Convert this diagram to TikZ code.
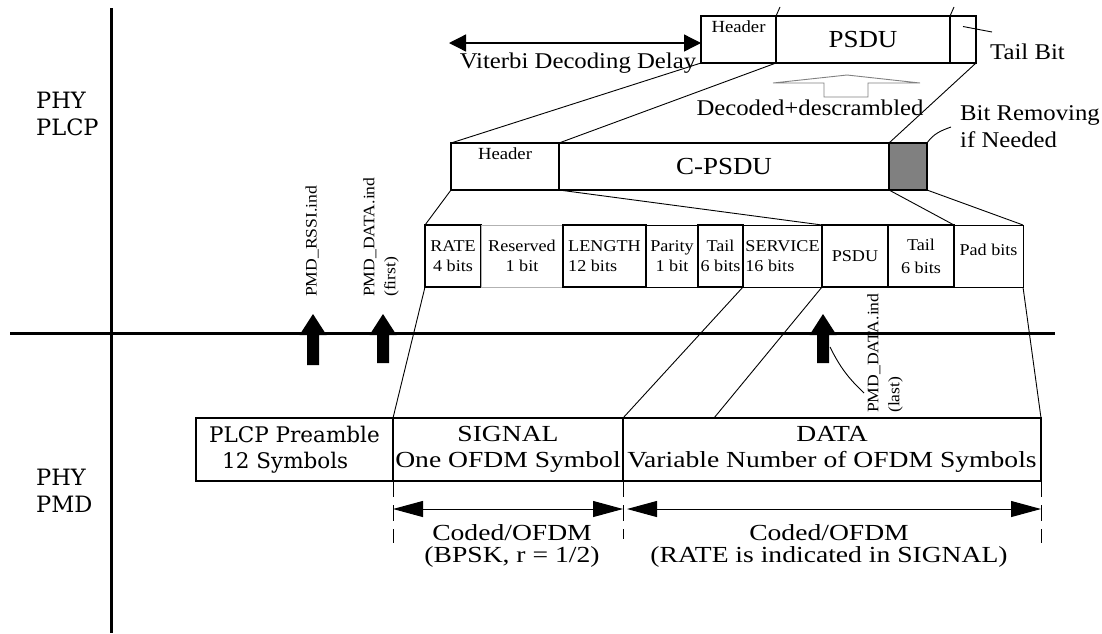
\documentclass[tikz,border=0pt]{standalone}
\usepackage{fontspec}
\setmainfont[FakeStretch=1.1]{Liberation Serif}
\newfontfamily\lowfont[FakeStretch=1.2]{Liberation Serif}
\newfontfamily\widefont{DejaVu Serif}
\usetikzlibrary{arrows.meta, positioning}
\tikzstyle{bigbox} = [rectangle, draw=black, line width=2.5pt, outer sep=0pt, inner sep=0pt, minimum height=47, font=\fontsize{24.5}{26}\selectfont]
\tikzstyle{hdrtxt} = [inner sep=0pt, font=\fontsize{17}{18}\selectfont]
\tikzstyle{seg} = [rectangle, draw=black, line width=1.3pt, outer sep=0pt, inner sep=0pt, minimum height=62, align=center, font=\fontsize{16.5}{20}\selectfont]
\tikzstyle{symbox} = [rectangle, draw=black, line width=1.2pt, outer sep=0pt, inner sep=0pt, minimum height=63, align=center, font=\lowfont\fontsize{23}{26}\selectfont]
\tikzstyle{note} = [inner sep=0pt, align=left, font=\fontsize{22.5}{27}\selectfont]
\tikzstyle{codetxt} = [inner sep=0pt, align=center, font=\lowfont\fontsize{23}{22}\selectfont]
\tikzstyle{phylabel} = [inner sep=0pt, anchor=west, align=left, font=\widefont\fontsize{22.5}{27}\selectfont]
\tikzstyle{indtxt} = [rotate=90, anchor=west, align=left, inner sep=0pt, font=\fontsize{16}{21}\selectfont]
\tikzstyle{axisline} = [line width=3pt]
\tikzstyle{link} = [line width=0.9pt]
\tikzstyle{delay} = [line width=1.3pt, {Triangle[length=17pt,width=17pt]}-{Triangle[length=17pt,width=17pt]}]
\tikzstyle{span} = [line width=1pt, {Triangle[length=30pt,width=16pt]}-{Triangle[length=30pt,width=16pt]}]
\tikzstyle{guide} = [line width=1pt, dash pattern=on 16pt off 8pt]

\begin{document}
\begin{tikzpicture}[x=1pt, y=-1pt]
\useasboundingbox (0,0) rectangle (1102,633);

% Axes
\coordinate (vtop) at (111,8);
\coordinate (vbot) at (111,633);
\coordinate (hleft) at (10,333);
\coordinate (hright) at (1055,333);
\draw [axisline] (vtop) -- (vbot);
\draw [axisline] (hleft) -- (hright);

\node (plcp) [phylabel] at (36,114) {PHY\\PLCP};
\node (pmd) [phylabel] at (36,491) {PHY\\PMD};

% Decoded frame
\node (thdr) [bigbox, minimum width=75, anchor=north west] at (701,16) {};
\node (tpsdu) [bigbox, minimum width=174, right=0pt of thdr] {PSDU};
\node (ttail) [bigbox, minimum width=26, right=0pt of tpsdu] {};
\node (thdrtxt) [hdrtxt, below=4pt of thdr.north] {Header};

\coordinate (vdl) at (449,43);
\draw [delay] (vdl) -- (vdl -| thdr.west);
\node (viterbi) [note] at (578,63) {Viterbi Decoding Delay};

\node (tailbit) [note, anchor=west] at (990,52) {Tail Bit};
\coordinate (tbend) at (992,32);
\draw [link] ([yshift=13pt]ttail.center) -- (tbend);

\draw [link] (thdr.north east) -- ++(4,-9);
\draw [link] (ttail.north west) -- ++(4,-9);

% Decoded+descrambled
\draw [gray, line width=0.9pt] (773,83) -- (847,75) -- (920,83) -- (868,83) -- (868,97) -- (824,97) -- (824,83) -- cycle;
\node (decoded) [note] at (810,108) {Decoded+descrambled};

% Coded frame
\node (chdr) [bigbox, minimum width=108, anchor=north west] at (451,143) {};
\node (cpsdu) [bigbox, minimum width=330, right=0pt of chdr] {C-PSDU};
\node (cpad) [bigbox, minimum width=38, fill=gray, right=0pt of cpsdu] {};
\node (chdrtxt) [hdrtxt, below=4pt of chdr.north] {Header};

\node (bitrm) [note, anchor=west] at (960,127) {Bit Removing\\if Needed};
\draw [link] (cpad.north east) to[out=55, in=200] ([xshift=-9pt]bitrm.west);

\draw [link] (thdr.south west) -- (chdr.north west);
\draw [link] (thdr.south east) -- (chdr.north east);
\draw [link] (ttail.south east) -- (cpad.north west);

% Fields
\node (frate) [seg, minimum width=56, line width=1.6pt, anchor=north west] at (425,225) {RATE\\4 bits};
\node (fres) [seg, minimum width=82, draw=gray!60, line width=1pt, right=0pt of frate] {Reserved\\1 bit};
\node (flen) [seg, minimum width=83, line width=1.6pt, align=left, right=0pt of fres] {LENGTH\\12 bits};
\node (fpar) [seg, minimum width=52, line width=1pt, right=0pt of flen] {Parity\\1 bit};
\node (ftail) [seg, minimum width=45, line width=1.5pt, right=0pt of fpar] {Tail\\6 bits};
\node (fserv) [seg, minimum width=79, line width=1pt, align=left, right=0pt of ftail] {SERVICE\\16 bits};
\node (fpsdu) [seg, minimum width=66, right=0pt of fserv] {PSDU};
\node (ftail2) [seg, minimum width=66, line width=1.8pt, right=0pt of fpsdu] {Tail\\[3pt]6 bits};
\node (fpad) [seg, minimum width=69, line width=1pt, right=0pt of ftail2] {Pad bits\\[-8pt]~};

\draw [link] (chdr.south west) -- (frate.north west);
\draw [link] (chdr.south east) -- (fpsdu.north west);
\draw [link] (cpad.south west) -- (fpad.north west);
\draw [link] (cpad.south east) -- (fpad.north east);

% Indications
\coordinate (rssi) at (313,314);
\coordinate (dfirst) at (383,314);
\coordinate (dlast) at (823,314);
\fill (rssi) -- ++(13.5,21) -- ++(-7.5,0) -- ++(0,30) -- ++(-12,0) -- ++(0,-30) -- ++(-7.5,0) -- cycle;
\fill (dfirst) -- ++(13.5,21) -- ++(-7.5,0) -- ++(0,28) -- ++(-12,0) -- ++(0,-28) -- ++(-7.5,0) -- cycle;
\fill (dlast) -- ++(13.5,21) -- ++(-7.5,0) -- ++(0,28) -- ++(-12,0) -- ++(0,-28) -- ++(-7.5,0) -- cycle;

\node (rssitxt) [indtxt] at (312,297) {PMD\_RSSI.ind};
\node (firsttxt) [indtxt] at (381,297) {PMD\_DATA.ind\\(first)};
\node (lasttxt) [indtxt] at (885,413) {PMD\_DATA.ind\\(last)};
\draw [link] ([xshift=7pt,yshift=-33pt]dlast) to[bend right=10] ([xshift=-3pt,yshift=20pt]lasttxt.north west);

% Symbols
\node (pre) [symbox, font=\widefont\fontsize{21.5}{26}\selectfont, align=left, minimum width=197, anchor=north west] at (196,418) {PLCP Preamble\\\hspace*{13pt}12 Symbols};
\node (sig) [symbox, minimum width=230, right=0pt of pre] {SIGNAL\\One OFDM Symbol};
\node (data) [symbox, minimum width=418, right=0pt of sig] {DATA\\Variable Number of OFDM Symbols};

\draw [link] (frate.south west) -- (sig.north west);
\draw [link] (ftail.south east) -- (data.north west);
\draw [link] (fserv.south east) -- ([xshift=91pt]data.north west);
\draw [link] (fpad.south east) -- (data.north east);

% Coding
\draw [guide] (sig.south west) -- ++(0,62);
\draw [guide] (data.south west) -- ++(0,58);
\draw [guide] (data.south east) -- ++(0,62);
\draw [span] ([yshift=-28pt]sig.south west) -- ([yshift=-28pt]sig.south east);
\draw [span] ([xshift=4pt,yshift=-28pt]data.south west) -- ([yshift=-28pt]data.south east);

\node (sigcode) [codetxt] at (512,546) {Coded/OFDM\\(BPSK, r = 1/2)};
\node (datacode) [codetxt] at (829,546) {Coded/OFDM\\(RATE is indicated in SIGNAL)};

\end{tikzpicture}
\end{document}
